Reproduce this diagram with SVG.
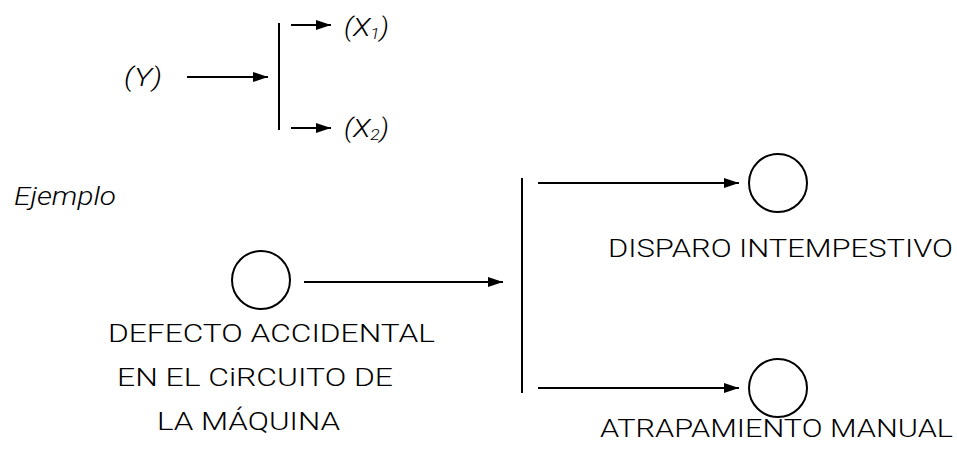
<svg xmlns="http://www.w3.org/2000/svg" width="957" height="452" viewBox="0 0 957 452">
<style>
.ln{stroke:#000;stroke-width:2;fill:none}
.arr{stroke:#000;stroke-width:2;fill:none;marker-end:url(#ah)}
.nd{stroke:#000;stroke-width:2;fill:#fff}
.lb{font-family:Roboto,"Liberation Sans",sans-serif;font-weight:300;font-size:26.5px;fill:#000}
.it{font-family:Roboto,"Liberation Sans",sans-serif;font-weight:300;font-style:italic;font-size:25px;fill:#000}
</style>
<defs>
<marker id="ah" markerUnits="userSpaceOnUse" markerWidth="16" markerHeight="12" refX="15" refY="5" orient="auto">
<path d="M0,0 L15,5 L0,10 z" fill="#000"/>
</marker>
</defs>
<rect width="957" height="452" fill="#fff"/>
<g id="legend">
<text class="it" x="124" y="86" textLength="38" lengthAdjust="spacingAndGlyphs">(Y)</text>
<text class="it" x="344" y="36" textLength="45" lengthAdjust="spacingAndGlyphs">(X<tspan font-size="15" dy="3">1</tspan><tspan dy="-3">)</tspan></text>
<text class="it" x="344" y="137" textLength="45" lengthAdjust="spacingAndGlyphs">(X<tspan font-size="15" dy="3">2</tspan><tspan dy="-3">)</tspan></text>
</g>
<g id="ejemplo">
<text class="it" x="14" y="205" textLength="102" lengthAdjust="spacingAndGlyphs">Ejemplo</text>
</g>
<g id="connectors">
<line class="arr" x1="187" y1="77" x2="268" y2="77"/>
<line class="ln" x1="279" y1="23" x2="279" y2="130"/>
<line class="arr" x1="291" y1="25" x2="331" y2="25"/>
<line class="arr" x1="291" y1="128" x2="331" y2="128"/>
<line class="arr" x1="304" y1="282" x2="503" y2="282"/>
<line class="ln" x1="522" y1="178" x2="522" y2="393"/>
<line class="arr" x1="538" y1="183" x2="739" y2="183"/>
<line class="arr" x1="538" y1="388" x2="739" y2="388"/>
</g>
<g id="defecto">
<circle class="nd" cx="261" cy="280" r="29"/>
<text class="lb" x="108" y="342" textLength="327" lengthAdjust="spacingAndGlyphs">DEFECTO ACCIDENTAL</text>
<text class="lb" x="117" y="386" textLength="276" lengthAdjust="spacingAndGlyphs">EN EL CiRCUITO DE</text>
<text class="lb" x="157" y="430" textLength="183" lengthAdjust="spacingAndGlyphs">LA MÁQUINA</text>
</g>
<g id="disparo">
<circle class="nd" cx="778" cy="183" r="29"/>
<text class="lb" x="608" y="257" textLength="345" lengthAdjust="spacingAndGlyphs">DISPARO INTEMPESTIVO</text>
</g>
<g id="atrapamiento">
<circle class="nd" cx="778" cy="388" r="29"/>
<text class="lb" x="600" y="437" textLength="353" lengthAdjust="spacingAndGlyphs">ATRAPAMIENTO MANUAL</text>
</g>
</svg>
